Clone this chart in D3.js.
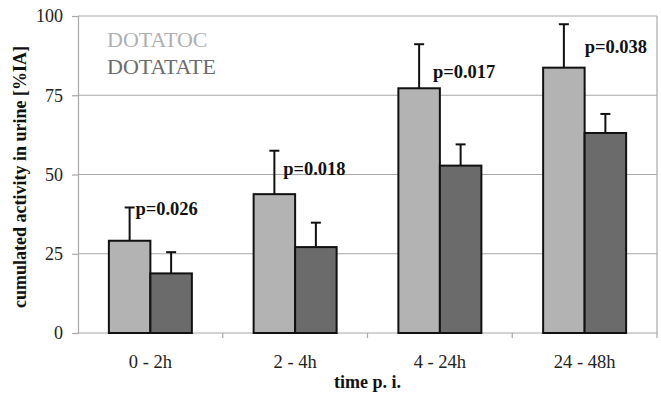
<!DOCTYPE html>
<html lang="en">
<head>
  <meta charset="UTF-8">
  <style>
    body { margin: 0; padding: 0; background: #fff; }
    svg { display: block; }
    svg text { font-family: "Liberation Serif", "Times New Roman", serif; }
  </style>
</head>
<body>
  <svg id="chart"></svg>

  <script src="https://d3js.org/d3.v7.min.js"></script>
  <script>
    // data
    let categories = ["0 - 2h", "2 - 4h", "4 - 24h", "24 - 48h"];
    let seriesNames = ["DOTATOC", "DOTATATE"];
    let dotatoc = [29.1, 43.8, 77.2, 83.7];
    let dotatocErr = [10.5, 13.7, 13.9, 13.7];
    let dotatate = [18.8, 27.1, 52.8, 63.1];
    let dotatateErr = [6.7, 7.7, 6.7, 6.0];
    let pValues = ["p=0.026", "p=0.018", "p=0.017", "p=0.038"];
    let pLabelY = [39.4, 52, 82.6, 90.5];   // value level of each p label
    let yTicks = [0, 25, 50, 75, 100];

    let width = 661, height = 395;
    let plotLeft = 78, plotRight = 657, plotTop = 16, plotBottom = 333;
    let colors = ["#b3b3b3", "#6b6b6b"];

    let svg = d3.select("#chart").attr("width", width).attr("height", height);

    let x = d3.scaleBand().domain(categories).range([plotLeft, plotRight]).padding(0);
    let xSub = d3.scaleBand().domain([0, 1]).range([0, x.bandwidth()])
      .paddingInner(0).paddingOuter(0.744);
    let y = d3.scaleLinear().domain([0, 100]).range([plotBottom, plotTop]);

    // gridlines
    svg.append("g")
      .selectAll("line")
      .data(yTicks.filter(d => d > 0))
      .enter().append("line")
      .attr("x1", plotLeft).attr("x2", plotRight)
      .attr("y1", d => y(d)).attr("y2", d => y(d))
      .attr("stroke", "#a8a8a8").attr("stroke-width", 1.2);

    // y axis
    let yAxis = svg.append("g")
      .attr("transform", "translate(" + plotLeft + ",0)")
      .call(d3.axisLeft(y).tickValues(yTicks).tickSize(6).tickPadding(9));
    yAxis.attr("font-family", null);
    yAxis.select(".domain").attr("stroke", "#a8a8a8").attr("stroke-width", 1.2);
    yAxis.selectAll(".tick line").attr("stroke", "#a8a8a8").attr("stroke-width", 1.2);
    yAxis.selectAll("text").attr("font-size", "18px").attr("fill", "#222");

    // right border
    svg.append("line")
      .attr("x1", plotRight).attr("x2", plotRight).attr("y1", plotTop).attr("y2", plotBottom + 5)
      .attr("stroke", "#a8a8a8").attr("stroke-width", 1.2);

    // x axis
    svg.append("line")
      .attr("x1", plotLeft).attr("x2", plotRight).attr("y1", plotBottom).attr("y2", plotBottom)
      .attr("stroke", "#a8a8a8").attr("stroke-width", 1.2);
    svg.append("g")
      .selectAll("line")
      .data(categories.slice(1))
      .enter().append("line")
      .attr("x1", d => x(d)).attr("x2", d => x(d))
      .attr("y1", plotBottom).attr("y2", plotBottom + 5)
      .attr("stroke", "#a8a8a8").attr("stroke-width", 1.2);
    svg.append("g")
      .selectAll("text")
      .data(categories)
      .enter().append("text")
      .attr("x", d => x(d) + x.bandwidth() / 2)
      .attr("y", 368)
      .attr("text-anchor", "middle")
      .attr("font-size", "18.5px")
      .attr("fill", "#222")
      .text(d => d);

    // bars
    let series = [dotatoc, dotatate];
    let errs = [dotatocErr, dotatateErr];
    series.forEach((vals, s) => {
      let g = svg.append("g");
      g.selectAll("line.err")
        .data(vals)
        .enter().append("line")
        .attr("x1", (d, i) => x(categories[i]) + xSub(s) + xSub.bandwidth() / 2)
        .attr("x2", (d, i) => x(categories[i]) + xSub(s) + xSub.bandwidth() / 2)
        .attr("y1", d => y(d))
        .attr("y2", (d, i) => y(d + errs[s][i]))
        .attr("stroke", "#111").attr("stroke-width", 2);
      g.selectAll("line.cap")
        .data(vals)
        .enter().append("line")
        .attr("x1", (d, i) => x(categories[i]) + xSub(s) + xSub.bandwidth() / 2 - 5)
        .attr("x2", (d, i) => x(categories[i]) + xSub(s) + xSub.bandwidth() / 2 + 5)
        .attr("y1", (d, i) => y(d + errs[s][i]))
        .attr("y2", (d, i) => y(d + errs[s][i]))
        .attr("stroke", "#111").attr("stroke-width", 2);
      g.selectAll("rect")
        .data(vals)
        .enter().append("rect")
        .attr("x", (d, i) => x(categories[i]) + xSub(s))
        .attr("y", d => y(d))
        .attr("width", xSub.bandwidth())
        .attr("height", d => plotBottom - y(d))
        .attr("fill", colors[s])
        .attr("stroke", "#111").attr("stroke-width", 2);
    });

    // p values
    let pDx = [-15, -12, -7, 0];
    svg.append("g")
      .selectAll("text")
      .data(pValues)
      .enter().append("text")
      .attr("x", (d, i) => x(categories[i]) + x.bandwidth() / 2 + pDx[i])
      .attr("y", (d, i) => y(pLabelY[i]))
      .attr("dy", "0.35em")
      .attr("font-size", "18.5px")
      .attr("font-weight", "bold")
      .attr("fill", "#111")
      .text(d => d);

    // legend
    svg.append("g")
      .selectAll("text")
      .data(seriesNames)
      .enter().append("text")
      .attr("x", 107)
      .attr("y", (d, i) => 47 + i * 27)
      .attr("font-size", "22px")
      .attr("fill", (d, i) => i == 0 ? "#b0b0b0" : "#6b6b6b")
      .text(d => d);

    // axis titles
    svg.append("text")
      .attr("x", (plotLeft + plotRight) / 2)
      .attr("y", 388)
      .attr("text-anchor", "middle")
      .attr("font-size", "18px")
      .attr("font-weight", "bold")
      .attr("fill", "#111")
      .text("time p. i.");

    svg.append("text")
      .attr("transform", "translate(26,177) rotate(-90)")
      .attr("text-anchor", "middle")
      .attr("font-size", "18px")
      .attr("font-weight", "bold")
      .attr("fill", "#111")
      .text("cumulated activity in urine [%IA]");
  </script>
</body>
</html>
